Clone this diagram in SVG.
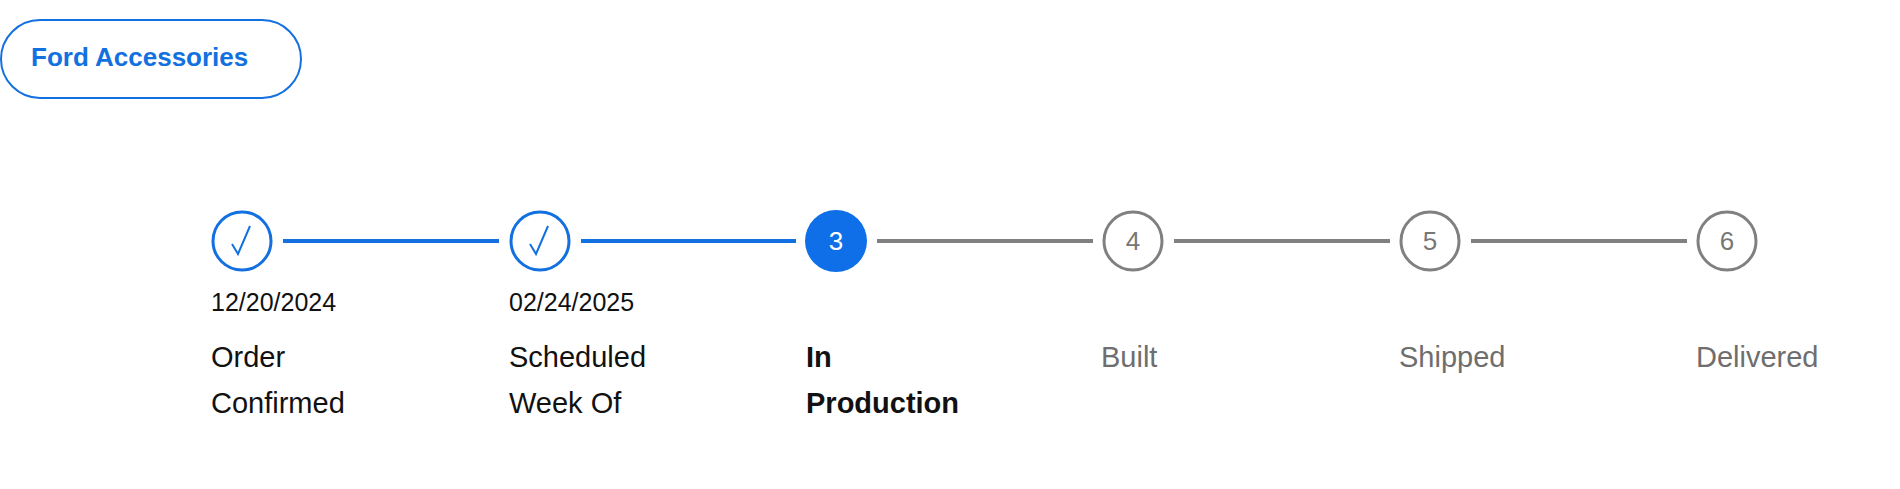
<svg xmlns="http://www.w3.org/2000/svg" width="1900" height="489" viewBox="0 0 1900 489">
<style>
text{font-family:"Liberation Sans","DejaVu Sans",sans-serif}
.done{fill:#fff;stroke:#1370e0;stroke-width:3}
.todo{fill:#fff;stroke:#808080;stroke-width:3}
.cur{fill:#0f6fe8}
.lb{stroke:#1370e0;stroke-width:4}
.lg{stroke:#808080;stroke-width:4}
.chk{fill:none;stroke:#1370e0;stroke-width:2}
.date{font-size:25px;fill:#111}
.lab{font-size:29px;fill:#111}
.labg{font-size:29px;fill:#6e6e6e}
.num{font-size:26px;fill:#777;text-anchor:middle}
</style>
<rect width="1900" height="489" fill="#fff"/>
<g id="btn"><rect x="1" y="20" width="300" height="78" rx="39" fill="#fff" stroke="#1370e0" stroke-width="2"/>
<text x="31" y="66" font-size="26" font-weight="bold" fill="#1370e0">Ford Accessories</text></g>
<g id="connectors">
<line class="lb" x1="283" y1="241" x2="499" y2="241"/>
<line class="lb" x1="581" y1="241" x2="796" y2="241"/>
<line class="lg" x1="877" y1="241" x2="1093" y2="241"/>
<line class="lg" x1="1174" y1="241" x2="1390" y2="241"/>
<line class="lg" x1="1471" y1="241" x2="1687" y2="241"/>
</g>
<g id="s1"><circle class="done" cx="242" cy="241" r="29"/><path class="chk" d="M232 244 L238 254 L250 226"/>
<text class="date" x="211" y="311">12/20/2024</text><text class="lab" x="211" y="367">Order</text><text class="lab" x="211" y="413">Confirmed</text></g>
<g id="s2"><circle class="done" cx="540" cy="241" r="29"/><path class="chk" d="M530 244 L536 254 L548 226"/>
<text class="date" x="509" y="311">02/24/2025</text><text class="lab" x="509" y="367">Scheduled</text><text class="lab" x="509" y="413">Week Of</text></g>
<g id="s3"><circle class="cur" cx="836" cy="241" r="31"/><text x="836" y="250" font-size="26" fill="#fff" text-anchor="middle">3</text>
<text class="lab" x="806" y="367" font-weight="bold">In</text><text class="lab" x="806" y="413" font-weight="bold">Production</text></g>
<g id="s4"><circle class="todo" cx="1133" cy="241" r="29"/><text class="num" x="1133" y="250">4</text><text class="labg" x="1101" y="367">Built</text></g>
<g id="s5"><circle class="todo" cx="1430" cy="241" r="29"/><text class="num" x="1430" y="250">5</text><text class="labg" x="1399" y="367">Shipped</text></g>
<g id="s6"><circle class="todo" cx="1727" cy="241" r="29"/><text class="num" x="1727" y="250">6</text><text class="labg" x="1696" y="367">Delivered</text></g>
</svg>
